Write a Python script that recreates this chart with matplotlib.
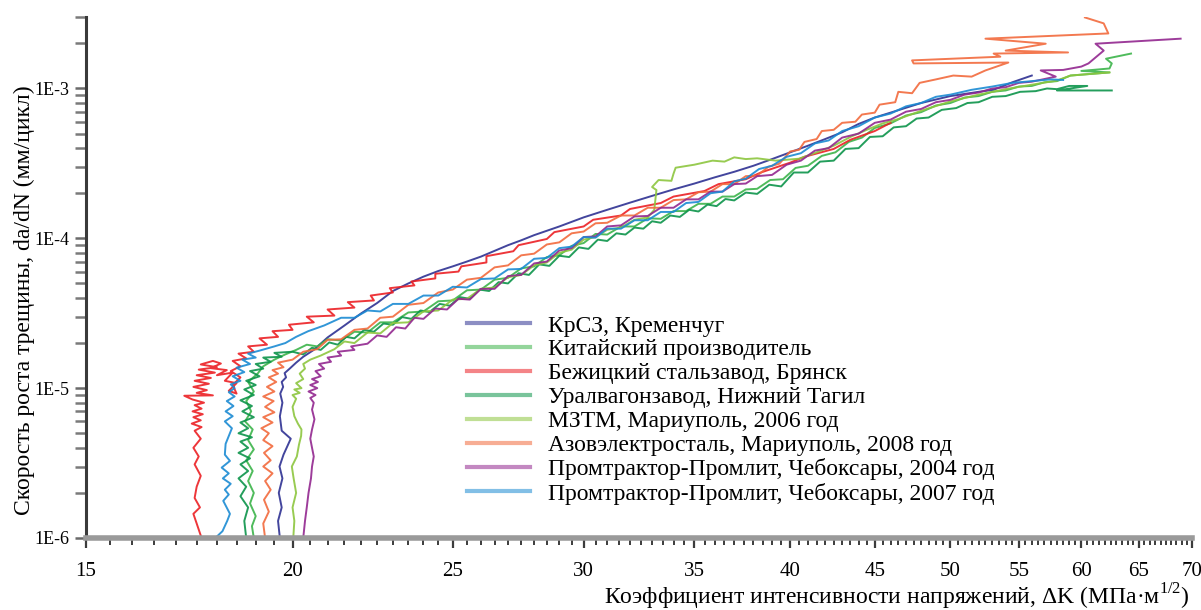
import matplotlib
matplotlib.use("Agg")
import matplotlib.pyplot as plt
from matplotlib.lines import Line2D
from matplotlib.ticker import (FixedLocator, FixedFormatter, MultipleLocator,
                               LogLocator, NullFormatter)

plt.rcParams["font.family"] = ["Liberation Serif", "DejaVu Serif"]
plt.rcParams["mathtext.fontset"] = "custom"
plt.rcParams["mathtext.rm"] = "Liberation Serif"

# ---- data: (ΔK, da/dN) pairs per supplier -------------------------------
krsz = [(19.65,1.0e-6),(19.6,1.3e-6),(19.7,1.6e-6),(19.62,2.0e-6),(19.72,2.5e-6),(19.64,3.0e-6),
        (19.75,3.6e-6),(19.95,4.6e-6),(19.7,5.2e-6),(19.65,6.5e-6),(19.72,8.0e-6),(19.66,9.2e-6),
        (19.74,1.02e-5),(19.7,1.1e-5),(19.82,1.18e-5),(19.78,1.26e-5),(19.92,1.35e-5),(20.1,1.48e-5),
        (20.3,1.62e-5),(20.6,1.8e-5),(21.0,2.18e-5),(21.5,2.62e-5),(22.0,3.15e-5),(22.5,3.7e-5),
        (23.0,4.45e-5),(23.5,5.0e-5),(24.0,5.55e-5),(24.5,6.05e-5),(25.0,6.5e-5),(25.5,7.0e-5),
        (26.0,7.55e-5),(26.5,8.25e-5),(27.0,9.0e-5),(27.5,9.7e-5),(28.0,1.05e-4),(29.0,1.2e-4),
        (30.0,1.38e-4),(31.0,1.55e-4),(32.0,1.73e-4),(33.0,1.92e-4),(34.0,2.12e-4),(35.0,2.32e-4),
        (36.0,2.55e-4),(37.0,2.78e-4),(38.0,3.05e-4),(39.0,3.38e-4),(40.0,3.75e-4),(41.0,4.15e-4),
        (42.0,4.6e-4),(43.0,5.1e-4),(44.0,5.8e-4),(45.0,6.4e-4),(46.0,6.9e-4),(48.0,8.0e-4),
        (50.0,8.9e-4),(52.0,9.5e-4),(53.1,9.8e-4),(54.5,1.1e-3),(56.0,1.22e-3)]

kitai = [(18.95,1.0e-6),(18.9,1.2e-6),(19.0,1.4e-6),(18.85,1.7e-6),(18.95,2.0e-6),(18.8,2.4e-6),
         (18.92,2.8e-6),(18.75,3.3e-6),(18.95,3.9e-6),(18.8,4.5e-6),(18.92,5.3e-6),(18.72,6.0e-6),
         (18.88,7.0e-6),(18.75,8.2e-6),(18.95,9.5e-6),(18.8,1.1e-5),(19.05,1.25e-5),(19.2,1.4e-5),
         (19.5,1.55e-5),(19.8,1.68e-5),(20.1,1.8e-5),(20.4,1.95e-5),(20.7,1.9e-5),(21.0,2.12e-5),
         (21.4,2.08e-5),(21.8,2.38e-5),(22.2,2.35e-5),(22.6,2.75e-5),(23.0,2.75e-5),(23.5,3.2e-5),
         (24.0,3.25e-5),(24.5,3.8e-5),(25.0,3.85e-5),(25.5,4.5e-5),(26.0,4.55e-5),(26.5,5.3e-5),
         (27.0,5.45e-5),(27.5,6.3e-5),(28.0,6.5e-5),(28.5,7.5e-5),(29.0,7.7e-5),(29.5,8.9e-5),
         (30.0,9.3e-5),(30.5,1.07e-4),(31.0,1.06e-4),(31.6,1.2e-4),(32.2,1.2e-4),(32.8,1.36e-4),
         (33.4,1.35e-4),(34.0,1.52e-4),(34.6,1.52e-4),(35.2,1.7e-4),(35.8,1.7e-4),(36.4,1.9e-4),
         (37.0,1.9e-4),(37.6,2.12e-4),(38.2,2.14e-4),(38.9,2.45e-4),(39.6,2.48e-4),(40.3,2.95e-4),
         (41.0,3.05e-4),(41.8,3.55e-4),(42.6,3.75e-4),(43.4,4.4e-4),(44.2,4.7e-4),(45.0,5.45e-4),
         (46.0,5.85e-4),(47.0,6.6e-4),(48.0,6.95e-4),(49.0,7.7e-4),(50.0,8.0e-4),(51.0,8.7e-4),
         (52.0,8.9e-4),(53.0,9.5e-4),(54.0,9.7e-4),(55.0,1.03e-3),(56.0,1.04e-3),(57.0,1.1e-3),
         (58.0,1.12e-3),(59.1,1.22e-3),(62.4,1.28e-3),(60.0,1.31e-3),(62.4,1.36e-3),(62.6,1.47e-3),
         (62.1,1.58e-3),(64.3,1.71e-3)]

bezh = [(17.62,1.0e-6),(17.5,1.25e-6),(17.42,1.45e-6),(17.58,1.6e-6),(17.45,1.85e-6),(17.5,2.2e-6),
        (17.6,2.6e-6),(17.45,3.1e-6),(17.55,3.5e-6),(17.42,4.0e-6),(17.6,4.6e-6),(17.45,5.2e-6),
        (17.62,5.5e-6),(17.38,5.8e-6),(17.6,6.1e-6),(17.42,6.4e-6),(17.65,6.7e-6),(17.4,7.0e-6),
        (17.62,7.3e-6),(17.45,7.7e-6),(17.68,8.0e-6),(17.4,8.4e-6),(17.2,8.9e-6),(17.9,8.95e-6),
        (17.5,9.3e-6),(17.75,9.7e-6),(17.42,1.02e-5),(17.8,1.07e-5),(17.45,1.12e-5),(17.85,1.17e-5),
        (17.5,1.22e-5),(17.95,1.27e-5),(17.55,1.33e-5),(18.0,1.38e-5),(17.6,1.44e-5),(17.9,1.52e-5),
        (18.1,1.46e-5),(17.85,1.36e-5),(18.25,1.32e-5),(18.0,1.22e-5),(18.4,1.27e-5),(18.2,1.12e-5),
        (18.5,1.08e-5),(18.3,9.6e-6),(18.5,9.2e-6),(18.4,1.05e-5),(18.6,1.18e-5),(18.35,1.3e-5),
        (18.6,1.4e-5),(18.4,1.52e-5),(18.75,1.58e-5),(18.55,1.7e-5),(18.95,1.75e-5),(18.8,1.9e-5),
        (19.3,1.95e-5),(19.1,2.15e-5),(19.6,2.2e-5),(19.45,2.4e-5),(20.0,2.45e-5),(19.9,2.65e-5),
        (20.6,2.75e-5),(20.4,3.0e-5),(21.2,3.05e-5),(21.0,3.35e-5),(21.8,3.45e-5),(21.6,3.75e-5),
        (22.4,3.85e-5),(22.3,4.15e-5),(23.0,4.35e-5),(22.9,4.65e-5),(23.7,4.85e-5),(23.6,5.15e-5),
        (24.4,5.4e-5),(24.4,5.8e-5),(25.2,6.0e-5),(25.3,6.5e-5),(26.2,6.9e-5),(26.2,7.6e-5),
        (27.2,8.2e-5),(27.4,9.0e-5),(28.5,9.9e-5),(28.8,1.1e-4),(30.0,1.2e-4),(30.4,1.33e-4),
        (31.6,1.42e-4),(32.0,1.57e-4),(33.4,1.72e-4),(34.0,1.9e-4),(35.5,2.07e-4),(36.2,2.3e-4),
        (37.6,2.48e-4),(38.4,2.75e-4),(40.0,3.2e-4),(40.8,3.5e-4),(42.5,3.95e-4),(43.5,4.55e-4),
        (45.0,5.2e-4),(46.0,5.9e-4)]

ural = [(18.75,1.0e-6),(18.7,1.3e-6),(18.8,1.6e-6),(18.6,1.9e-6),(18.75,2.2e-6),(18.55,2.5e-6),
        (18.8,2.8e-6),(18.6,3.1e-6),(18.85,3.4e-6),(18.55,3.7e-6),(18.8,4.0e-6),(18.6,4.4e-6),
        (18.9,4.7e-6),(18.55,5.0e-6),(18.8,5.4e-6),(18.6,5.9e-6),(18.95,6.4e-6),(18.65,7.0e-6),
        (18.9,7.6e-6),(18.6,8.3e-6),(18.95,9.0e-6),(18.7,9.8e-6),(19.0,1.05e-5),(18.75,1.12e-5),
        (19.1,1.2e-5),(18.85,1.3e-5),(19.2,1.35e-5),(19.0,1.45e-5),(19.4,1.5e-5),(19.2,1.6e-5),
        (19.7,1.62e-5),(19.5,1.72e-5),(20.0,1.75e-5),(20.3,1.68e-5),(20.55,1.86e-5),(20.8,1.8e-5),
        (21.05,2.02e-5),(21.3,1.95e-5),(21.55,2.2e-5),(21.8,2.15e-5),(22.1,2.45e-5),(22.4,2.38e-5),
        (22.7,2.7e-5),(23.0,2.65e-5),(23.3,2.98e-5),(23.6,2.9e-5),(23.9,3.3e-5),(24.2,3.22e-5),
        (24.55,3.65e-5),(24.9,3.55e-5),(25.25,4.05e-5),(25.6,3.95e-5),(25.95,4.55e-5),(26.3,4.45e-5),
        (26.65,5.1e-5),(27.0,5.0e-5),(27.4,5.85e-5),(27.8,5.7e-5),(28.2,6.7e-5),(28.6,6.55e-5),
        (29.0,7.65e-5),(29.4,7.5e-5),(29.8,8.7e-5),(30.2,8.5e-5),(30.6,9.8e-5),(31.0,9.6e-5),
        (31.4,1.08e-4),(31.8,1.06e-4),(32.2,1.18e-4),(32.6,1.16e-4),(33.0,1.3e-4),(33.4,1.27e-4),
        (33.85,1.42e-4),(34.3,1.39e-4),(34.75,1.55e-4),(35.2,1.51e-4),(35.65,1.68e-4),(36.1,1.64e-4),
        (36.55,1.83e-4),(37.0,1.79e-4),(37.6,2.02e-4),(38.2,1.98e-4),(38.85,2.28e-4),(39.5,2.22e-4),
        (40.2,2.75e-4),(41.0,2.75e-4),(41.7,3.25e-4),(42.5,3.3e-4),(43.2,3.95e-4),(44.0,4.0e-4),
        (44.7,4.75e-4),(45.5,4.8e-4),(46.2,5.5e-4),(47.0,5.6e-4),(47.7,6.3e-4),(48.5,6.4e-4),
        (49.4,7.2e-4),(50.4,7.4e-4),(51.2,8.0e-4),(52.0,8.1e-4),(53.0,8.8e-4),(54.0,8.9e-4),
        (55.1,9.5e-4),(56.3,9.6e-4),(57.2,1.0e-3),(58.0,9.9e-4),(59.0,1.04e-3),(60.5,1.04e-3),
        (58.0,9.7e-4),(62.6,9.7e-4)]

mztm = [(20.02,1.0e-6),(20.05,1.3e-6),(20.0,1.6e-6),(20.1,2.0e-6),(20.03,2.5e-6),(19.98,3.0e-6),
        (20.12,3.5e-6),(20.18,4.2e-6),(20.24,4.8e-6),(20.25,5.3e-6),(20.15,5.8e-6),(20.05,6.5e-6),
        (20.0,7.5e-6),(20.1,8.5e-6),(20.0,9.0e-6),(20.2,9.3e-6),(20.05,9.8e-6),(20.25,1.0e-5),
        (20.1,1.08e-5),(20.3,1.15e-5),(20.2,1.25e-5),(20.35,1.35e-5),(20.3,1.45e-5),(20.5,1.55e-5),
        (20.8,1.65e-5),(21.2,1.82e-5),(21.5,2.05e-5),(21.8,2.0e-5),(22.2,2.35e-5),(22.6,2.32e-5),
        (23.0,2.72e-5),(23.5,2.75e-5),(24.0,3.25e-5),(24.5,3.3e-5),(25.0,3.9e-5),(25.5,3.95e-5),
        (26.0,4.6e-5),(26.5,4.7e-5),(27.0,5.5e-5),(27.5,5.7e-5),(28.0,6.6e-5),(28.5,6.9e-5),
        (29.0,8.0e-5),(29.5,8.4e-5),(30.0,9.8e-5),(30.5,1.02e-4),(31.0,1.14e-4),(31.6,1.18e-4),
        (32.2,1.33e-4),(32.8,1.38e-4),(33.1,1.55e-4),(33.2,2.1e-4),(33.0,2.2e-4),(33.3,2.45e-4),
        (33.9,2.42e-4),(34.0,2.7e-4),(34.1,2.96e-4),(35.0,3.1e-4),(35.9,3.3e-4),(36.5,3.25e-4),
        (37.0,3.47e-4),(37.6,3.38e-4),(38.2,3.42e-4),(39.2,3.3e-4),(40.5,3.4e-4),(41.5,3.75e-4),
        (42.5,4.15e-4),(43.5,4.75e-4),(44.5,5.3e-4),(45.5,5.85e-4),(46.5,6.25e-4),(48.0,7.1e-4),
        (50.0,8.2e-4),(52.0,9.1e-4),(54.0,9.9e-4),(56.0,1.06e-3),(58.0,1.13e-3),(59.1,1.22e-3),
        (62.4,1.28e-3)]

azov = [(19.25,1.0e-6),(19.2,1.25e-6),(19.35,1.5e-6),(19.22,1.8e-6),(19.4,2.1e-6),(19.25,2.4e-6),
        (19.45,2.7e-6),(19.2,3.0e-6),(19.4,3.3e-6),(19.22,3.7e-6),(19.45,4.1e-6),(19.2,4.5e-6),
        (19.35,5.0e-6),(19.15,5.4e-6),(19.45,5.9e-6),(19.2,6.4e-6),(19.5,6.9e-6),(19.25,7.5e-6),
        (19.48,8.2e-6),(19.2,8.8e-6),(19.5,9.5e-6),(19.3,1.02e-5),(19.55,1.1e-5),(19.35,1.18e-5),
        (19.6,1.25e-5),(19.45,1.32e-5),(19.75,1.38e-5),(19.6,1.48e-5),(20.0,1.55e-5),(20.3,1.75e-5),
        (20.7,1.82e-5),(21.0,2.1e-5),(21.4,2.12e-5),(21.8,2.45e-5),(22.2,2.5e-5),(22.6,2.95e-5),
        (23.0,3.0e-5),(23.5,3.6e-5),(24.0,3.7e-5),(24.5,4.35e-5),(25.0,4.55e-5),(25.5,5.3e-5),
        (26.0,5.45e-5),(26.5,6.4e-5),(27.0,6.6e-5),(27.5,7.7e-5),(28.0,7.9e-5),(28.5,9.1e-5),
        (29.0,9.4e-5),(29.5,1.08e-4),(30.0,1.11e-4),(30.5,1.26e-4),(31.0,1.27e-4),(31.6,1.42e-4),
        (32.2,1.42e-4),(32.8,1.6e-4),(33.4,1.6e-4),(34.0,1.8e-4),(34.6,1.82e-4),(35.2,2.03e-4),
        (35.8,2.05e-4),(36.4,2.3e-4),(37.0,2.3e-4),(37.6,2.6e-4),(38.2,2.62e-4),(38.8,3.0e-4),
        (39.4,3.15e-4),(40.0,3.8e-4),(40.5,3.9e-4),(40.8,4.4e-4),(41.5,4.6e-4),(41.8,5.2e-4),
        (42.5,5.3e-4),(43.0,5.9e-4),(43.8,6.0e-4),(44.2,6.7e-4),(45.0,6.9e-4),(45.3,7.8e-4),
        (46.3,8.1e-4),(46.5,9.5e-4),(47.4,9.3e-4),(47.9,1.09e-3),(49.0,1.15e-3),(50.2,1.22e-3),
        (51.5,1.2e-3),(52.5,1.32e-3),(54.2,1.49e-3),(47.5,1.47e-3),(47.4,1.54e-3),(53.6,1.63e-3),
        (53.1,1.71e-3),(58.9,1.74e-3),(54.0,1.79e-3),(57.1,1.99e-3),(52.5,2.15e-3),(62.3,2.33e-3),
        (61.9,2.72e-3),(60.3,2.98e-3)]

prom2004 = [(20.3,1.0e-6),(20.35,1.3e-6),(20.4,1.6e-6),(20.45,2.0e-6),(20.52,2.5e-6),(20.55,3.0e-6),
            (20.6,3.5e-6),(20.55,4.0e-6),(20.5,4.6e-6),(20.55,5.3e-6),(20.62,6.2e-6),(20.55,7.2e-6),
            (20.6,8.0e-6),(20.5,8.6e-6),(20.65,9.0e-6),(20.45,9.5e-6),(20.7,1.0e-5),(20.5,1.05e-5),
            (20.72,1.1e-5),(20.55,1.15e-5),(20.8,1.2e-5),(20.65,1.3e-5),(20.9,1.35e-5),(20.75,1.45e-5),
            (21.1,1.5e-5),(21.0,1.6e-5),(21.4,1.65e-5),(21.3,1.75e-5),(21.8,1.8e-5),(21.7,1.9e-5),
            (22.2,1.98e-5),(22.5,2.25e-5),(22.8,2.2e-5),(23.1,2.55e-5),(23.4,2.5e-5),(23.7,2.95e-5),
            (24.0,2.9e-5),(24.4,3.4e-5),(24.8,3.35e-5),(25.2,3.95e-5),(25.6,3.9e-5),(26.0,4.6e-5),
            (26.5,4.6e-5),(27.0,5.6e-5),(27.5,5.7e-5),(28.0,6.8e-5),(28.5,7.0e-5),(29.0,8.3e-5),
            (29.5,8.6e-5),(30.0,1.02e-4),(30.5,1.03e-4),(31.0,1.2e-4),(31.6,1.22e-4),(32.2,1.4e-4),
            (32.8,1.41e-4),(33.4,1.6e-4),(34.0,1.6e-4),(34.6,1.82e-4),(35.2,1.82e-4),(35.8,2.05e-4),
            (36.4,2.05e-4),(37.0,2.3e-4),(37.6,2.32e-4),(38.2,2.6e-4),(39.0,2.65e-4),(39.8,3.1e-4),
            (40.6,3.3e-4),(41.4,3.85e-4),(42.2,4.0e-4),(43.0,4.7e-4),(44.0,5.0e-4),(45.0,5.9e-4),
            (46.0,6.2e-4),(47.0,7.0e-4),(48.0,7.3e-4),(49.0,8.1e-4),(50.0,8.4e-4),(51.0,9.1e-4),
            (52.0,9.4e-4),(53.0,1.0e-3),(54.0,1.02e-3),(55.0,1.09e-3),(56.0,1.11e-3),(57.9,1.2e-3),
            (56.7,1.32e-3),(58.5,1.33e-3),(60.0,1.4e-3),(60.6,1.47e-3),(61.9,1.79e-3),(61.2,1.99e-3),
            (68.9,2.15e-3)]

prom2007 = [(17.96,1.0e-6),(18.14,1.11e-6),(18.26,1.3e-6),(18.33,1.45e-6),(18.16,1.77e-6),(18.3,1.95e-6),
            (18.2,2.1e-6),(18.35,2.3e-6),(18.15,2.5e-6),(18.3,2.7e-6),(18.12,2.95e-6),(18.33,3.27e-6),
            (18.2,3.6e-6),(18.22,4.25e-6),(18.38,5.4e-6),(18.2,6.0e-6),(18.4,6.5e-6),(18.22,7.0e-6),
            (18.42,7.6e-6),(18.25,8.2e-6),(18.45,8.8e-6),(18.3,9.4e-6),(18.45,1.0e-5),(18.35,1.06e-5),
            (18.6,1.12e-5),(18.4,1.2e-5),(18.7,1.28e-5),(18.5,1.37e-5),(18.85,1.45e-5),(18.65,1.55e-5),
            (19.0,1.6e-5),(18.8,1.7e-5),(19.1,1.78e-5),(19.5,1.9e-5),(19.8,2.0e-5),(20.1,2.2e-5),
            (20.44,2.4e-5),(20.9,2.62e-5),(21.4,2.95e-5),(21.8,2.95e-5),(22.2,3.3e-5),(22.6,3.25e-5),
            (23.0,3.65e-5),(23.5,3.65e-5),(24.0,4.15e-5),(24.5,4.15e-5),(25.0,4.75e-5),(25.5,4.7e-5),
            (26.0,5.35e-5),(26.5,5.4e-5),(27.0,6.2e-5),(27.5,6.25e-5),(28.0,7.3e-5),(28.5,7.4e-5),
            (29.0,8.6e-5),(29.5,8.8e-5),(30.0,1.02e-4),(30.5,1.01e-4),(31.0,1.16e-4),(31.6,1.16e-4),
            (32.2,1.32e-4),(32.8,1.32e-4),(33.4,1.5e-4),(34.0,1.5e-4),(34.6,1.72e-4),(35.2,1.75e-4),
            (35.8,2.0e-4),(36.4,2.05e-4),(37.0,2.4e-4),(37.6,2.5e-4),(38.3,2.9e-4),(39.0,3.05e-4),
            (39.8,3.5e-4),(40.6,3.7e-4),(41.4,4.3e-4),(42.2,4.5e-4),(43.0,5.2e-4),(44.0,5.6e-4),
            (45.0,6.4e-4),(46.0,6.8e-4),(47.0,7.6e-4),(48.0,8.0e-4),(49.0,8.8e-4),(50.0,9.1e-4),
            (51.5,9.8e-4),(53.0,1.03e-3),(54.5,1.09e-3),(56.0,1.12e-3),(57.5,1.15e-3),(58.5,1.14e-3)]

series = [krsz, kitai, bezh, ural, mztm, azov, prom2004, prom2007]
labels = ["КрСЗ, Кременчуг",
          "Китайский производитель",
          "Бежицкий стальзавод, Брянск",
          "Уралвагонзавод, Нижний Тагил",
          "МЗТМ, Мариуполь, 2006 год",
          "Азовэлектросталь, Мариуполь, 2008 год",
          "Промтрактор-Промлит, Чебоксары, 2004 год",
          "Промтрактор-Промлит, Чебоксары, 2007 год"]
colors = ["#2e3192", "#3cb44a", "#ec2024", "#0c944a",
          "#8dc63f", "#f26a3d", "#92278f", "#1b8bd3"]

x_ticks = [15, 20, 25, 30, 35, 40, 45, 50, 55, 60, 65, 70]
x_tick_labels = [str(v) for v in x_ticks]
y_ticks = [1e-6, 1e-5, 1e-4, 1e-3]
y_tick_labels = ["1E-6", "1E-5", "1E-4", "1E-3"]

# ---- figure -------------------------------------------------------------
W, H = 1201, 610
fig = plt.figure(figsize=(W / 100, H / 100), dpi=100)
ax = fig.add_axes([86 / W, 1 - 538 / H, (1192 - 86) / W, (538 - 17) / H])
ax.set_xscale("log")
ax.set_yscale("log")

for pts, col in zip(series, colors):
    k = [p[0] for p in pts]
    r = [p[1] for p in pts]
    ax.plot(k, r, color=col, lw=1.4, alpha=0.9, solid_joinstyle="round")

ax.set_xlim(15, 70)
ax.set_ylim(1e-6, 3e-3)

ax.xaxis.set_major_locator(FixedLocator(x_ticks))
ax.xaxis.set_major_formatter(FixedFormatter(x_tick_labels))
ax.xaxis.set_minor_locator(MultipleLocator(0.5))
ax.xaxis.set_minor_formatter(NullFormatter())
ax.yaxis.set_major_locator(FixedLocator(y_ticks))
ax.yaxis.set_major_formatter(FixedFormatter(y_tick_labels))
ax.yaxis.set_minor_locator(LogLocator(base=10, subs=range(2, 10), numticks=30))
ax.yaxis.set_minor_formatter(NullFormatter())

ax.tick_params(axis="x", which="major", direction="out", length=7, width=1.6,
               color="#3c3c3c", labelsize=15, pad=10)
ax.tick_params(axis="x", which="minor", direction="out", length=5, width=1.4,
               color="#3c3c3c")
ax.tick_params(axis="y", which="major", direction="out", length=8, width=1.8,
               color="#6a6a6a", labelsize=13, pad=4)
ax.tick_params(axis="y", which="minor", direction="out", length=8, width=1.8,
               color="#7a7a7a")

for side in ("top", "right"):
    ax.spines[side].set_visible(False)
ax.spines["left"].set_color("#3a3a3a")
ax.spines["left"].set_linewidth(2.2)
ax.spines["bottom"].set_color("#9a9a9a")
ax.spines["bottom"].set_linewidth(4)

handles = [Line2D([], [], color=c, lw=3, alpha=0.55) for c in colors]
ax.legend(handles, labels, loc="upper left",
          bbox_to_anchor=(467 / W, 1 - 315 / H), bbox_transform=fig.transFigure,
          frameon=False, fontsize=17, handlelength=2.67, handletextpad=0.76,
          labelspacing=0.10, borderpad=0, borderaxespad=0)

fig.text(24 / W, 1 - 300 / H, "Скорость роста трещины, da/dN (мм/цикл)",
         rotation=90, ha="center", va="center", fontsize=17)
fig.text(1190 / W, 1 - 597 / H,
         "Коэффициент интенсивности напряжений, ΔK (МПа·м$^{\\mathrm{1/2}}$)",
         ha="right", va="center", fontsize=17)

fig.savefig("out.png", dpi=100)
